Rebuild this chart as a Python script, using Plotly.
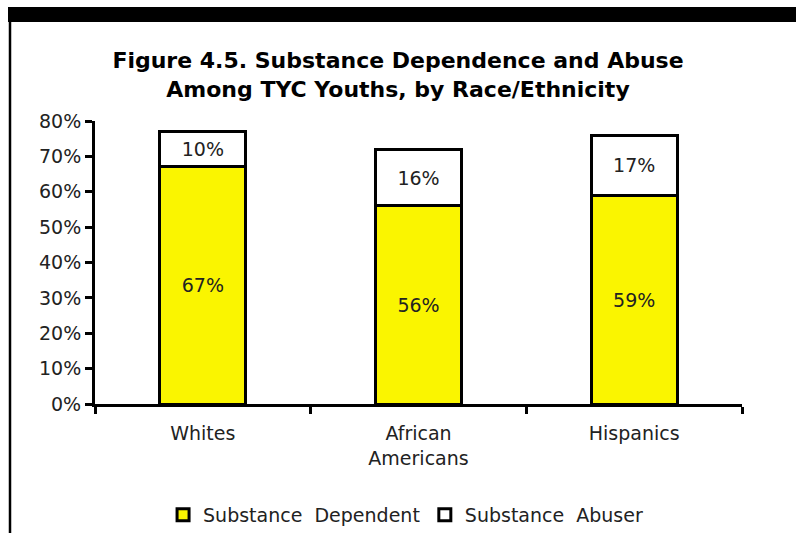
import plotly.graph_objects as go

categories = ["Whites", "African<br>Americans", "Hispanics"]
dependent = [67, 56, 59]
abuser = [10, 16, 17]
y_ticks = [0, 10, 20, 30, 40, 50, 60, 70, 80]
y_tick_labels = [f"{v}%" for v in y_ticks]

FONT = "DejaVu Sans"
W, H = 796, 533
L, R, T, B = 95, 54, 121, 129
pw, ph = W - L - R, H - T - B

def px_x(x):
    return (x - L) / pw

def px_y(y):
    return (H - B - y) / ph

fig = go.Figure()
fig.add_trace(go.Bar(
    x=categories, y=dependent, name="Substance  Dependent",
    marker=dict(color="#FAF500", line=dict(color="black", width=3)),
    text=[f"{v}%" for v in dependent], textposition="inside",
    insidetextanchor="middle", textfont=dict(size=19, color="#222", family=FONT),
    width=0.40,
))
fig.add_trace(go.Bar(
    x=categories, y=abuser, name="Substance  Abuser",
    marker=dict(color="white", line=dict(color="black", width=3)),
    text=[f"{v}%" for v in abuser], textposition="inside",
    insidetextanchor="middle", textfont=dict(size=19, color="#222", family=FONT),
    width=0.40,
))

fig.update_layout(
    barmode="stack",
    width=W, height=H,
    margin=dict(l=L, r=R, t=T, b=B, autoexpand=False),
    paper_bgcolor="white", plot_bgcolor="white",
    font=dict(family=FONT, size=19, color="#222"),
    title=dict(
        text="<b>Figure 4.5. Substance Dependence and Abuse<br>Among TYC Youths, by Race/Ethnicity</b>",
        x=0.5, xanchor="center", xref="container",
        y=1 - 68 / H, yanchor="middle", yref="container",
        font=dict(family=FONT, size=22, color="black"),
    ),
    xaxis=dict(
        showline=True, linecolor="black", linewidth=3,
        ticks="outside", tickson="boundaries", ticklen=7, tickwidth=3, tickcolor="black",
        showgrid=False, tickfont=dict(size=19, color="#222"), ticklabelstandoff=10,
    ),
    yaxis=dict(
        range=[0, 80], tickvals=y_ticks, ticktext=y_tick_labels,
        showline=True, linecolor="black", linewidth=3,
        ticks="outside", ticklen=7, tickwidth=3, tickcolor="black",
        showgrid=False, zeroline=False, tickfont=dict(size=19, color="#222"),
    ),
    legend=dict(
        orientation="h", x=0.48, xanchor="center", y=px_y(515), yanchor="middle",
        font=dict(size=19, color="#222"), traceorder="normal",
        itemwidth=30,
    ),
    bargap=0.6,
)

# Decorative frame: black top band and left border line
fig.add_shape(type="rect", xref="paper", yref="paper",
              x0=px_x(8), x1=px_x(800), y0=px_y(22), y1=px_y(7),
              fillcolor="black", line=dict(width=0), layer="above")
fig.add_shape(type="line", xref="paper", yref="paper",
              x0=px_x(10), x1=px_x(10), y0=px_y(7), y1=px_y(540),
              line=dict(color="black", width=2.5))

fig.write_html("out.html")
